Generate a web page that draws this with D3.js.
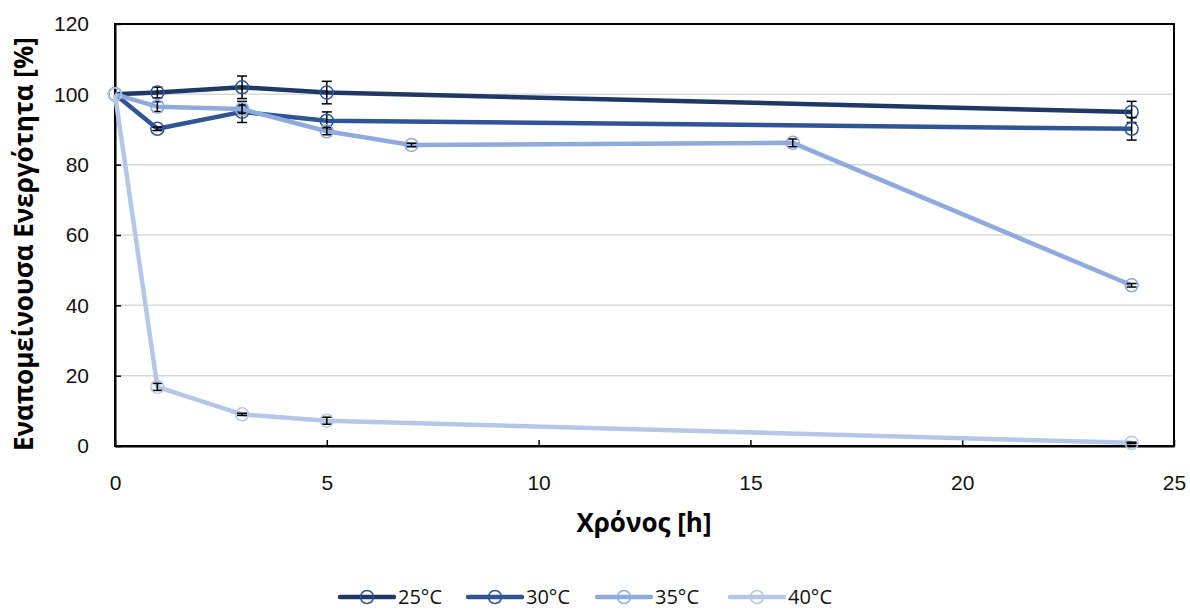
<!DOCTYPE html>
<html lang="el">
<head>
<meta charset="UTF-8">
<title>Εναπομείνουσα Ενεργότητα</title>
<script src="https://d3js.org/d3.v7.min.js"></script>
<style>
    body { margin: 0; background: white; }
    svg { font-family: "Open Sans", "Noto Sans", sans-serif; }
</style>
</head>
<body>
<svg id="chart" width="1190" height="610"></svg>
<script>
    // data
    const seriesNames = ['25°C', '30°C', '35°C', '40°C'];
    const seriesColors = ['#203864', '#2F5597', '#8FAADC', '#B4C7E7'];

    const t25 = [0, 1, 3, 5, 24];
    const v25 = [100, 100.5, 102, 100.5, 95];
    const e25 = [0, 1.5, 3.2, 3.2, 3];

    const t30 = [0, 1, 3, 5, 24];
    const v30 = [100, 90.2, 95, 92.5, 90.2];
    const e30 = [0, 0.5, 3, 2.5, 3.2];

    const t35 = [0, 1, 3, 5, 7, 16, 24];
    const v35 = [100, 96.5, 95.8, 89.5, 85.6, 86.2, 45.7];
    const e35 = [0, 1.4, 1.2, 1, 0.5, 1.1, 0.5];

    const t40 = [0, 1, 3, 5, 24];
    const v40 = [100, 16.8, 9, 7.2, 0.9];
    const e40 = [0, 1, 0.3, 1, 0.2];

    const allT = [t25, t30, t35, t40];
    const allV = [v25, v30, v35, v40];
    const allE = [e25, e30, e35, e40];

    const xTicks = [0, 5, 10, 15, 20, 25];
    const yTicks = [0, 20, 40, 60, 80, 100, 120];

    const svg = d3.select('#chart');
    const plotLeft = 115, plotRight = 1174, plotTop = 24, plotBottom = 446;

    const x = d3.scaleLinear().domain([0, 25]).range([plotLeft, plotRight]);
    const y = d3.scaleLinear().domain([0, 120]).range([plotBottom, plotTop]);

    // gridlines
    svg.append('g')
        .selectAll('line')
        .data(yTicks.filter(d => d > 0))
        .enter()
        .append('line')
        .attr('x1', plotLeft)
        .attr('x2', plotRight)
        .attr('y1', d => y(d))
        .attr('y2', d => y(d))
        .attr('stroke', '#d9d9d9')
        .attr('stroke-width', 1.5);

    // frame
    svg.append('rect')
        .attr('x', plotLeft)
        .attr('y', plotTop)
        .attr('width', plotRight - plotLeft)
        .attr('height', plotBottom - plotTop)
        .attr('fill', 'none')
        .attr('stroke', 'black')
        .attr('stroke-width', 2);

    const xAxis = svg.append('g')
        .attr('transform', `translate(0,${plotBottom})`)
        .call(d3.axisBottom(x).tickValues(xTicks).tickSizeInner(-6).tickSizeOuter(0).tickPadding(29));
    xAxis.select('.domain').attr('stroke-width', 2);
    xAxis.selectAll('.tick line').attr('stroke-width', 1.5);
    xAxis.selectAll('text').attr('font-size', 21).attr('fill', '#111');

    const yAxis = svg.append('g')
        .attr('transform', `translate(${plotLeft},0)`)
        .call(d3.axisLeft(y).tickValues(yTicks).tickSizeInner(-6).tickSizeOuter(0).tickPadding(26));
    yAxis.select('.domain').attr('stroke-width', 2);
    yAxis.selectAll('.tick line').attr('stroke-width', 1.5);
    yAxis.selectAll('text').attr('font-size', 21).attr('fill', '#111');

    // axis titles
    svg.append('text')
        .attr('x', 644)
        .attr('y', 532)
        .attr('text-anchor', 'middle')
        .attr('font-size', 26)
        .attr('font-weight', 'bold')
        .text('Χρόνος [h]');

    svg.append('text')
        .attr('transform', 'translate(33,244) rotate(-90)')
        .attr('text-anchor', 'middle')
        .attr('font-size', 26)
        .attr('font-weight', 'bold')
        .text('Εναπομείνουσα Ενεργότητα [%]');

    const line = d3.line().x(d => x(d.t)).y(d => y(d.v));

    for (let i = 0; i < seriesNames.length; i++) {
        const pts = allT[i].map((t, j) => ({ t: t, v: allV[i][j], e: allE[i][j] }));
        const g = svg.append('g');

        g.append('path')
            .datum(pts)
            .attr('d', line)
            .attr('fill', 'none')
            .attr('stroke', seriesColors[i])
            .attr('stroke-width', 4.5)
            .attr('stroke-linejoin', 'round');

        const eb = g.selectAll('.eb')
            .data(pts.filter(d => d.e > 0))
            .enter()
            .append('g');
        eb.append('line')
            .attr('x1', d => x(d.t)).attr('x2', d => x(d.t))
            .attr('y1', d => y(d.v - d.e)).attr('y2', d => y(d.v + d.e))
            .attr('stroke', 'black').attr('stroke-width', 1.5);
        eb.append('line')
            .attr('x1', d => x(d.t) - 5).attr('x2', d => x(d.t) + 5)
            .attr('y1', d => y(d.v + d.e)).attr('y2', d => y(d.v + d.e))
            .attr('stroke', 'black').attr('stroke-width', 1.5);
        eb.append('line')
            .attr('x1', d => x(d.t) - 5).attr('x2', d => x(d.t) + 5)
            .attr('y1', d => y(d.v - d.e)).attr('y2', d => y(d.v - d.e))
            .attr('stroke', 'black').attr('stroke-width', 1.5);

        g.selectAll('circle')
            .data(pts)
            .enter()
            .append('circle')
            .attr('cx', d => x(d.t))
            .attr('cy', d => y(d.v))
            .attr('r', 6.5)
            .attr('fill', 'none')
            .attr('stroke', i < 2 ? seriesColors[1] : seriesColors[i])
            .attr('stroke-width', 1.5);
    }

    // legend
    const legendX = [340, 468, 597, 730];
    const legend = svg.append('g');
    for (let i = 0; i < seriesNames.length; i++) {
        const lg = legend.append('g').attr('transform', `translate(${legendX[i]},597)`);
        lg.append('line')
            .attr('x1', 0).attr('x2', 54)
            .attr('y1', 0).attr('y2', 0)
            .attr('stroke', seriesColors[i])
            .attr('stroke-width', 4.5)
            .attr('stroke-linecap', 'round');
        lg.append('circle')
            .attr('cx', 27).attr('cy', 0).attr('r', 6.5)
            .attr('fill', 'none')
            .attr('stroke', i < 2 ? seriesColors[1] : seriesColors[i])
            .attr('stroke-width', 1.5);
        lg.append('text')
            .attr('x', 58).attr('y', 7)
            .attr('font-size', 20)
            .attr('fill', '#111')
            .text(seriesNames[i]);
    }
</script>
</body>
</html>
